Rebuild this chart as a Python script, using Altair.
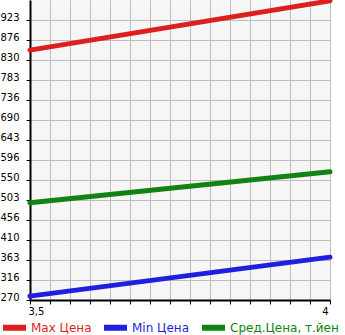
import altair as alt
import pandas as pd

series = ["Max Цена", "Min Цена", "Сред.Цена, т.йен"]
colors = ["#dd1f1f", "#1f1fdd", "#128212"]
x_vals = [3.5, 4.0]
max_vals = [853, 968]
min_vals = [279, 370]
avg_vals = [497, 569]

y_ticks = [270 + i * 700 / 15 for i in range(15)]
x_ticks = [3.5 + i / 30 for i in range(16)]

rows = []
for name, vals in zip(series, [max_vals, min_vals, avg_vals]):
    for xv, yv in zip(x_vals, vals):
        rows.append({"series": name, "x": xv, "y": yv})
df = pd.DataFrame(rows)

label_color_expr = (
    f"datum.value == '{series[0]}' ? '{colors[0]}' : "
    f"datum.value == '{series[1]}' ? '{colors[1]}' : '{colors[2]}'"
)

chart = alt.Chart(df).mark_line(strokeWidth=5, strokeCap="round").encode(
    x=alt.X("x:Q", scale=alt.Scale(domain=[3.5, 4.0], nice=False, zero=False),
            axis=alt.Axis(values=x_ticks, title=None,
                          labelExpr="datum.value == 3.5 ? '3,5' : (datum.value == 4 ? '4' : '')",
                          labelOffset=-2)),
    y=alt.Y("y:Q", scale=alt.Scale(domain=[270, 970], nice=False, zero=False),
            axis=alt.Axis(values=y_ticks, title=None, labelExpr="floor(datum.value)",
                          labelBaseline="alphabetic", labelPadding=7)),
    color=alt.Color("series:N", scale=alt.Scale(domain=series, range=colors),
                    legend=alt.Legend(title=None, orient="none", direction="horizontal",
                                      legendX=-30, legendY=313,
                                      symbolType="stroke", symbolSize=529,
                                      symbolStrokeWidth=6,
                                      labelFont="DejaVu Sans", labelFontSize=12,
                                      labelColor=alt.ExprRef(label_color_expr),
                                      labelOffset=2, columnPadding=0,
                                      labelLimit=300)),
    detail="series:N",
).properties(
    width=300, height=300,
    autosize=alt.AutoSizeParams(type="none"),
    padding={"left": 30, "top": 0, "right": 15, "bottom": 35},
    background="white",
).configure_view(
    fill="#f6f6f6", stroke=None,
).configure_axis(
    gridColor="#bdbdbd", gridWidth=1, gridOpacity=1,
    domainColor="#000000", domainWidth=2,
    tickColor="#000000", tickSize=4, tickWidth=1,
    labelFont="DejaVu Sans", labelFontSize=10, labelColor="#000000",
)

chart.save("out.html", embed_options={"renderer": "svg", "actions": False})
